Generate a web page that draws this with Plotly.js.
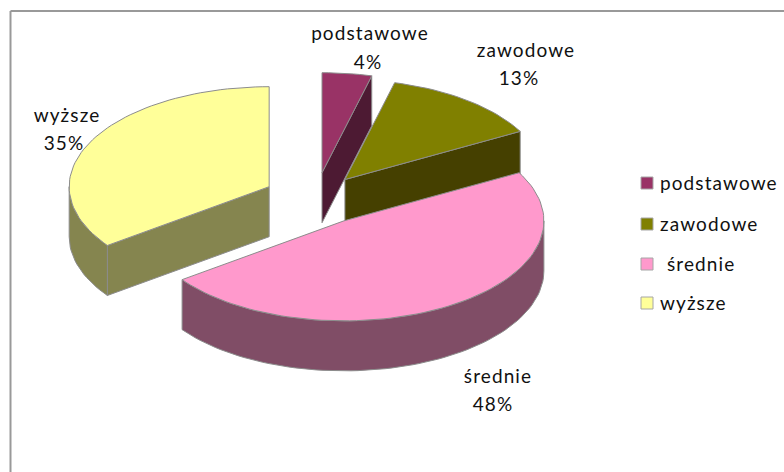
<!DOCTYPE html>
<html>
<head>
<meta charset="utf-8">
<script src="https://cdn.plot.ly/plotly-3.0.1.min.js"></script>
<style>html,body{margin:0;padding:0;background:#fff}#chart{width:784px;height:472px}#chart .textpoint text{letter-spacing:1.1px}</style>
</head>
<body>
<div id="chart"></div>
<script>
// Data
const categories = ['podstawowe', 'zawodowe', 'średnie', 'wyższe'];
const shares = [4, 13, 48, 35];
// Slice styling
const topColors = ['#993366', '#808000', '#FF99CC', '#FFFF99'];
const sideColors = ['#4D1A33', '#454000', '#804D66', '#85854F'];
const explodeBy = [52, 48, 53, 52];
const nameX = [370, 526, 498, 67];
const nameY = [35, 52, 378, 117];
const percentX = [368, 519, 493, 64];
const percentY = [64, 80, 406, 145];
const keyY = [183, 224, 264, 303];
const keyTextY = [185, 226, 266, 305];
const keyTextX = [660, 660, 667, 660];

// Projection of the tilted pie, in pixel units of the axes
const centre = [315.5, 198.5], rx = 200, ry = 100, depth = 50;
const edge = '#8C8C8C';
const labelFont = {family: 'Lato, Carlito, sans-serif', size: 19, color: '#111'};
const total = shares.reduce((a, b) => a + b, 0);

function onRim(apex, deg) {
  const t = deg * Math.PI / 180;
  return [apex[0] + rx * Math.sin(t), apex[1] - ry * Math.cos(t)];
}
function arc(apex, a, b) {
  const n = Math.max(2, Math.ceil(Math.abs(b - a) / 2)), out = [];
  for (let i = 0; i <= n; i++) out.push(onRim(apex, a + (b - a) * i / n));
  return out;
}
function face(pts, color, name) {
  return {
    type: 'scatter', mode: 'lines', fill: 'toself', fillcolor: color,
    x: pts.map(p => p[0]).concat([pts[0][0]]),
    y: pts.map(p => p[1]).concat([pts[0][1]]),
    line: {color: edge, width: 1}, name: name, hoverinfo: 'name', showlegend: false
  };
}
const down = p => [p[0], p[1] + depth];

// Geometry of every slice comes from the shares
let cum = 0;
const slices = shares.map((v, i) => {
  const start = cum / total * 360; cum += v;
  const end = cum / total * 360, mid = (start + end) / 2 * Math.PI / 180;
  const e = explodeBy[i];
  const apex = [centre[0] + e * Math.sin(mid), centre[1] - e * Math.cos(mid) * ry / rx];
  return {start, end, apex, i};
});

const faces = [];
// Sides first: radial wall for slices that show it, then the outer wall
slices.forEach(s => {
  const name = categories[s.i];
  if (s.end <= 90) {
    const p = onRim(s.apex, s.end);
    faces.push(face([s.apex, p, down(p), down(s.apex)], sideColors[s.i], name));
  }
  if (s.start >= 180 && s.start < 270) {
    const p = onRim(s.apex, s.start);
    faces.push(face([s.apex, p, down(p), down(s.apex)], sideColors[s.i], name));
  }
  const a = Math.max(s.start, 90), b = Math.min(s.end, 270);
  if (b > a) {
    const rim = arc(s.apex, a, b);
    faces.push(face(rim.concat(rim.map(down).reverse()), sideColors[s.i], name));
  }
});
// Tops, back to front
[0, 1, 3, 2].forEach(i => {
  const s = slices[i];
  faces.push(face([s.apex].concat(arc(s.apex, s.start, s.end)), topColors[i], categories[i]));
});

const nameLabels = {
  type: 'scatter', mode: 'text', x: nameX, y: nameY, text: categories,
  textposition: 'middle center', textfont: labelFont,
  hoverinfo: 'skip', showlegend: false, cliponaxis: false
};
const percentLabels = {
  type: 'scatter', mode: 'text', x: percentX, y: percentY,
  text: shares.map(v => Math.round(v / total * 100) + '%'),
  textposition: 'middle center', textfont: labelFont,
  hoverinfo: 'skip', showlegend: false, cliponaxis: false
};
const keyMarks = {
  type: 'scatter', mode: 'markers', x: categories.map(() => 647), y: keyY,
  marker: {symbol: 'square', size: 12, color: topColors, line: {color: '#A6A6A6', width: 1}},
  hoverinfo: 'skip', showlegend: false
};
const keyText = {
  type: 'scatter', mode: 'text', x: keyTextX, y: keyTextY, text: categories,
  textposition: 'middle right', textfont: labelFont,
  hoverinfo: 'skip', showlegend: false, cliponaxis: false
};

Plotly.newPlot('chart', faces.concat([nameLabels, percentLabels, keyMarks, keyText]), {
  width: 784, height: 472,
  margin: {l: 0, r: 0, t: 0, b: 0},
  paper_bgcolor: '#fff', plot_bgcolor: '#fff',
  showlegend: false,
  xaxis: {range: [0, 784], visible: false, fixedrange: true},
  yaxis: {range: [472, 0], visible: false, fixedrange: true},
  shapes: [
    {type: 'line', xref: 'paper', yref: 'paper', x0: 10.5 / 784, x1: 1, y0: 1 - 11 / 472, y1: 1 - 11 / 472,
     line: {color: '#999999', width: 2}, layer: 'below'},
    {type: 'line', xref: 'paper', yref: 'paper', x0: 10.5 / 784, x1: 10.5 / 784, y0: 0, y1: 1 - 11 / 472,
     line: {color: '#999999', width: 2}, layer: 'below'}
  ]
}, {displayModeBar: false, staticPlot: true});
</script>
</body>
</html>
